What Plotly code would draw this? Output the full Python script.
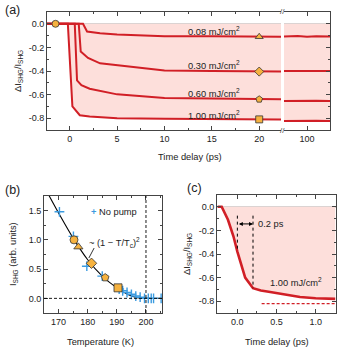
import plotly.graph_objects as go

# ---------------- Panel (a) data ----------------
t_100 = [-2.4, -0.2, 0.28, 1.06, 2.1, 5, 10, 15, 20, 22.3]
v_100 = [0, 0, -0.70, -0.775, -0.785, -0.80, -0.805, -0.81, -0.81, -0.812]
t_060 = [-2.4, 0.53, 0.77, 1.23, 2.1, 5, 10, 15, 20, 22.3]
v_060 = [0, 0, -0.48, -0.52, -0.55, -0.598, -0.628, -0.635, -0.64, -0.64]
t_030 = [-2.4, 0.95, 1.16, 1.93, 3.2, 5, 8.5, 10, 15, 20, 22.3]
v_030 = [0, 0, -0.235, -0.29, -0.335, -0.35, -0.38, -0.395, -0.40, -0.405, -0.405]
t_008 = [-2.4, 1.4, 1.83, 3.2, 5, 10, 15, 20, 22.3]
v_008 = [0, 0, -0.065, -0.08, -0.09, -0.105, -0.105, -0.11, -0.11]

t_long = [75, 90, 100, 110, 125]
v_long_100 = [-0.823, -0.82, -0.824, -0.821, -0.823]
v_long_060 = [-0.655, -0.652, -0.656, -0.653, -0.655]
v_long_030 = [-0.40, -0.398, -0.402, -0.399, -0.40]
v_long_008 = [-0.108, -0.104, -0.11, -0.106, -0.108]

fluence_labels = ["0.08 mJ/cm<sup>2</sup>", "0.30 mJ/cm<sup>2</sup>",
                  "0.60 mJ/cm<sup>2</sup>", "1.00 mJ/cm<sup>2</sup>"]
label_t = [12.3, 12.3, 12.3, 12.3]
label_v = [-0.065, -0.35, -0.585, -0.77]

mark_t = [-1.5, 20, 20, 20, 20]
mark_v = [0, -0.11, -0.405, -0.64, -0.81]
mark_sym = ["circle", "triangle-up", "diamond", "pentagon", "square"]

a_xticks = [0, 5, 10, 15, 20]
a_yticks = [0, -0.2, -0.4, -0.6, -0.8]
a_yticktext = ["0.0", "-0.2", "-0.4", "-0.6", "-0.8"]

# ---------------- Panel (b) data ----------------
nopump_T = [170.3, 175.1, 179.7, 185.0, 190.8, 192.0, 193.5, 195.0, 196.5,
            198.0, 199.5, 200.8, 201.8, 202.6, 205.2]
nopump_I = [1.48, 1.06, 0.55, 0.38, 0.16, 0.13, 0.10, 0.07, 0.04,
            0.02, 0.0, 0.0, 0.0, 0.0, 0.0]
pump_T = [175.3, 176.8, 181.3, 186.0, 190.4]
pump_I = [1.0, 0.88, 0.60, 0.355, 0.18]
fit_T = [166.7, 170, 175, 180, 185, 190, 194, 197, 200, 205.5]
fit_I = [1.76, 1.46, 1.03, 0.66, 0.38, 0.18, 0.06, 0.01, 0.0, 0.0]
Tc_line = 200
b_xticks = [170, 180, 190, 200]
b_yticks = [0, 0.5, 1.0, 1.5]
b_yticktext = ["0.0", "0.5", "1.0", "1.5"]

# ---------------- Panel (c) data ----------------
c_t = [-0.25, -0.2, -0.12, -0.05, 0.0, 0.1, 0.2, 0.3, 0.4, 0.6, 0.8, 1.0, 1.25]
c_v = [0, 0, -0.11, -0.25, -0.38, -0.60, -0.69, -0.71, -0.72, -0.745, -0.765, -0.775, -0.78]
c_marks = [0.0, 0.2]
c_mark_top = -0.075
c_mark_bottom = [-0.38, -0.69]
c_arrow_y = -0.145
c_final_level = -0.82
c_final_span = [0.31, 1.25]
c_xticks = [0.0, 0.5, 1.0]
c_xticktext = ["0.0", "0.5", "1.0"]

# ---------------- style ----------------
RED = "#d11f26"
PINK = "rgb(253,223,219)"
ORANGE = "#f6b23f"
BLUE = "#3b9be0"
FONT = "Liberation Sans, Arial, sans-serif"
TXT = "#222222"
TS = 9.3   # text size

W, H = 340, 350
def px(x):
    return x / W
def py(y):
    return 1 - y / H

fig = go.Figure()

# Panel (a) left segment
fig.add_trace(go.Scatter(x=t_100, y=v_100, mode="lines", fill="tozeroy",
                         fillcolor=PINK, line=dict(color=RED, width=2),
                         xaxis="x", yaxis="y", showlegend=False))
for tt, vv in [(t_060, v_060), (t_030, v_030), (t_008, v_008)]:
    fig.add_trace(go.Scatter(x=tt, y=vv, mode="lines",
                             line=dict(color=RED, width=2),
                             xaxis="x", yaxis="y", showlegend=False))
fig.add_trace(go.Scatter(x=mark_t, y=mark_v, mode="markers",
                         marker=dict(symbol=mark_sym, size=7, color=ORANGE,
                                     line=dict(color="#333", width=0.8)),
                         xaxis="x", yaxis="y", showlegend=False))
# Panel (a) right segment
fig.add_trace(go.Scatter(x=t_long, y=v_long_100, mode="lines", fill="tozeroy",
                         fillcolor=PINK, line=dict(color=RED, width=2),
                         xaxis="x2", yaxis="y2", showlegend=False))
for vv in [v_long_060, v_long_030, v_long_008]:
    fig.add_trace(go.Scatter(x=t_long, y=vv, mode="lines",
                             line=dict(color=RED, width=2),
                             xaxis="x2", yaxis="y2", showlegend=False))

# Panel (b)
fig.add_trace(go.Scatter(x=fit_T, y=fit_I, mode="lines", line_shape="spline",
                         line=dict(color="black", width=1.1),
                         xaxis="x3", yaxis="y3", showlegend=False))
fig.add_trace(go.Scatter(x=nopump_T, y=nopump_I, mode="markers",
                         marker=dict(symbol="cross-thin", size=7,
                                     line=dict(color=BLUE, width=1.4)),
                         xaxis="x3", yaxis="y3", showlegend=False))
fig.add_trace(go.Scatter(x=pump_T, y=pump_I, mode="markers",
                         marker=dict(symbol=mark_sym, size=8, color=ORANGE,
                                     line=dict(color="#333", width=0.8)),
                         xaxis="x3", yaxis="y3", showlegend=False))

# Panel (c)
fig.add_trace(go.Scatter(x=c_t, y=c_v, mode="lines", fill="tozeroy",
                         fillcolor=PINK, line=dict(color=RED, width=2.6),
                         xaxis="x4", yaxis="y4", showlegend=False))

tickfont = dict(family=FONT, size=9, color=TXT)
common = dict(showline=True, linecolor="#444", linewidth=1, ticks="inside",
              tickcolor="#444", ticklen=4, tickfont=tickfont, showgrid=False,
              zeroline=False)
minor_style = dict(ticklen=2, ticks="inside", tickcolor="#444", tickmode="linear")
zero_style = {"zeroline": True, "zerolinecolor": "#cfcfcf", "zerolinewidth": 1.5}

fig.update_layout(
    width=W, height=H, margin=dict(l=0, r=0, t=0, b=0),
    paper_bgcolor="white", plot_bgcolor="rgba(0,0,0,0)",
    font=dict(family=FONT, size=TS, color=TXT),
    xaxis=dict(domain=[px(47), px(281)], range=[-2.4, 22.3], anchor="y",
               tickvals=a_xticks, mirror="ticks",
               minor=dict(tick0=0, dtick=2.5, **minor_style), **common),
    yaxis=dict(domain=[py(130), py(12)], range=[-0.9, 0.1], anchor="x",
               tickvals=a_yticks, ticktext=a_yticktext,
               minor=dict(tick0=0, dtick=0.1, **minor_style),
               **{**common, **zero_style}),
    xaxis2=dict(domain=[px(284), px(330)], range=[75, 125], anchor="y2",
                tickvals=[100], mirror="ticks", **common),
    yaxis2=dict(domain=[py(130), py(12)], range=[-0.9, 0.1], anchor="x2",
                side="right", tickvals=a_yticks, showticklabels=False,
                minor=dict(tick0=0, dtick=0.1, **minor_style),
                **{**common, **zero_style}),
    xaxis3=dict(domain=[px(44), px(162)], range=[165, 205.5], anchor="y3",
                tickvals=b_xticks, mirror="ticks",
                minor=dict(tick0=165, dtick=5, **minor_style), **common),
    yaxis3=dict(domain=[py(313), py(196)], range=[-0.25, 1.75], anchor="x3",
                tickvals=b_yticks, ticktext=b_yticktext, mirror="ticks",
                minor=dict(tick0=0, dtick=0.25, **minor_style), **common),
    xaxis4=dict(domain=[px(217), px(336)], range=[-0.26, 1.26], anchor="y4",
                tickvals=c_xticks, ticktext=c_xticktext, mirror="ticks",
                minor=dict(tick0=0, dtick=0.25, **minor_style), **common),
    yaxis4=dict(domain=[py(313), py(195)], range=[-0.9, 0.1], anchor="x4",
                tickvals=a_yticks, ticktext=a_yticktext, mirror="ticks",
                minor=dict(tick0=0, dtick=0.1, **minor_style),
                **{**common, **zero_style}),
)

shapes = []
# (b) dashed reference lines
shapes.append(dict(type="line", xref="x3", yref="y3", x0=165, x1=205.5, y0=0, y1=0,
                   line=dict(color="black", width=0.9, dash="3px,2px")))
shapes.append(dict(type="line", xref="x3", yref="y3", x0=Tc_line, x1=Tc_line,
                   y0=-0.25, y1=1.75, line=dict(color="black", width=0.9, dash="3px,2px")))
# (b) leader line
shapes.append(dict(type="line", xref="x3", yref="y3", x0=182.2, x1=180.4,
                   y0=0.86, y1=0.69, line=dict(color="black", width=0.8)))
# (c) dotted markers
for xm, yb in zip(c_marks, c_mark_bottom):
    shapes.append(dict(type="line", xref="x4", yref="y4", x0=xm, x1=xm,
                       y0=c_mark_top, y1=yb, line=dict(color="black", width=1, dash="dot")))
shapes.append(dict(type="line", xref="x4", yref="y4", x0=c_final_span[0],
                   x1=c_final_span[1], y0=c_final_level, y1=c_final_level,
                   line=dict(color=RED, width=1.2, dash="3px,2px")))
fig.update_layout(shapes=shapes)

ann = []
for lab, lt, lv in zip(fluence_labels, label_t, label_v):
    ann.append(dict(x=lt, y=lv, xref="x", yref="y", text=lab, showarrow=False,
                    xanchor="left", yanchor="middle", font=dict(size=TS, color=TXT)))
# break marks
for yy in [12, 130]:
    ann.append(dict(x=px(282.5), y=py(yy), xref="paper", yref="paper", text="//",
                    showarrow=False, font=dict(size=8, color="#444"),
                    xanchor="center", yanchor="middle"))
# panel labels
ann.append(dict(x=px(3), y=py(10), xref="paper", yref="paper", text="(a)",
                showarrow=False, xanchor="left", yanchor="middle", font=dict(size=12.5)))
ann.append(dict(x=px(3), y=py(190), xref="paper", yref="paper", text="(b)",
                showarrow=False, xanchor="left", yanchor="middle", font=dict(size=12.5)))
ann.append(dict(x=px(185), y=py(188), xref="paper", yref="paper", text="(c)",
                showarrow=False, xanchor="left", yanchor="middle", font=dict(size=12.5)))
# axis titles
ylab = "ΔI<sub>SHG</sub>/I<sub>SHG</sub>"
ann.append(dict(x=px(18), y=py(71), xref="paper", yref="paper", text=ylab,
                textangle=-90, showarrow=False, xanchor="center", yanchor="middle",
                font=dict(size=TS)))
ann.append(dict(x=px(190), y=py(157), xref="paper", yref="paper", text="Time delay (ps)",
                showarrow=False, xanchor="center", yanchor="middle", font=dict(size=TS)))
ann.append(dict(x=px(13), y=py(254), xref="paper", yref="paper",
                text="I<sub>SHG</sub> (arb. units)", textangle=-90, showarrow=False,
                xanchor="center", yanchor="middle", font=dict(size=TS)))
ann.append(dict(x=px(100), y=py(342), xref="paper", yref="paper", text="Temperature (K)",
                showarrow=False, xanchor="center", yanchor="middle", font=dict(size=TS)))
ann.append(dict(x=px(187), y=py(254), xref="paper", yref="paper", text=ylab,
                textangle=-90, showarrow=False, xanchor="center", yanchor="middle",
                font=dict(size=TS)))
ann.append(dict(x=px(277), y=py(342), xref="paper", yref="paper", text="Time delay (ps)",
                showarrow=False, xanchor="center", yanchor="middle", font=dict(size=TS)))
# (b) texts
ann.append(dict(x=180.5, y=1.47, xref="x3", yref="y3",
                text=f"<span style='color:{BLUE}'><b>+</b></span> No pump",
                showarrow=False, xanchor="left", yanchor="middle", font=dict(size=TS)))
ann.append(dict(x=179.7, y=0.95, xref="x3", yref="y3",
                text="~ (1 − T/T<sub>c</sub>)<sup>2</sup>",
                showarrow=False, xanchor="left", yanchor="middle", font=dict(size=TS)))
# (c) texts and arrow
ann.append(dict(x=c_marks[1], y=c_arrow_y, ax=c_marks[0], ay=c_arrow_y,
                xref="x4", yref="y4", axref="x4", ayref="y4", text="",
                showarrow=True, arrowhead=2, arrowside="end+start", arrowsize=0.8,
                arrowwidth=1, arrowcolor="black"))
ann.append(dict(x=0.24, y=c_arrow_y, xref="x4", yref="y4", text="0.2 ps",
                showarrow=False, xanchor="left", yanchor="middle", font=dict(size=TS)))
ann.append(dict(x=0.39, y=-0.64, xref="x4", yref="y4", text="1.00 mJ/cm<sup>2</sup>",
                showarrow=False, xanchor="left", yanchor="middle", font=dict(size=TS)))
fig.update_layout(annotations=ann)

fig.write_html("out.html", config={"displayModeBar": False},
               post_script="document.body.style.margin='0px';")
